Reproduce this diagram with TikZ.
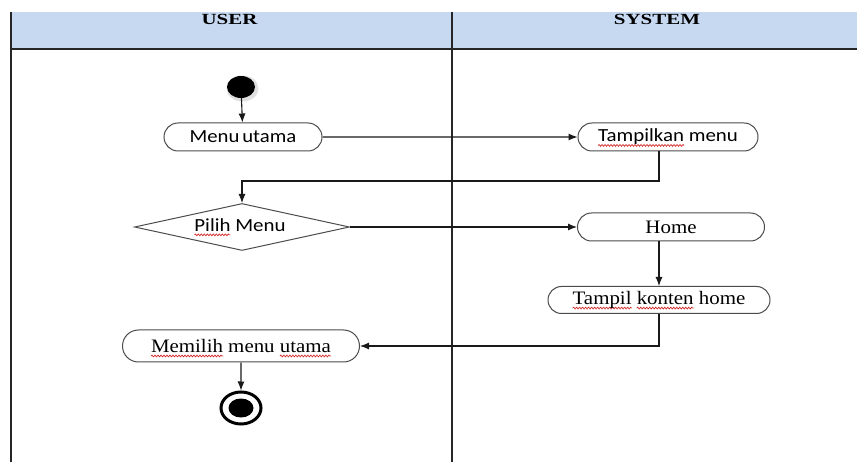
\documentclass[tikz,border=0pt]{standalone}
\usepackage{fontspec}
\usetikzlibrary{shapes.geometric,shapes.misc,arrows.meta,decorations.pathmorphing}

\newfontfamily\labelserif[FakeStretch=1.1]{Liberation Serif}
\newfontfamily\headserif[FakeStretch=1.35]{Liberation Serif}
\newfontfamily\labelsans[FakeStretch=1.13]{Carlito}
\newfontfamily\labelsanstight[FakeStretch=1.12, WordSpace=0.6]{Carlito}
\definecolor{headerblue}{HTML}{C6D9F1}
\definecolor{spellred}{HTML}{D42A2A}

% red wavy spell-check underline under one word
\newdimen\spellwd
\newsavebox\spellbox
\newcommand\spellmark[1]{%
  \sbox\spellbox{#1}\spellwd=\wd\spellbox\relax
  \tikz[overlay, x=1pt, y=1pt, baseline=0pt]
    \draw[spellred, line width=0.7pt, decorate,
          decoration={snake, amplitude=0.9pt, segment length=3pt}]
      (0pt,-3.5pt) -- (\the\spellwd,-3.5pt);%
  \usebox\spellbox}

\tikzset{
  lane/.style={line width=1.6pt, draw=black!85},
  headfont/.style={font=\headserif\bfseries\fontsize{15.5}{17}\selectfont, inner sep=0pt},
  activity/.style={rounded rectangle, draw=black!70, line width=1pt, fill=white,
                   inner sep=0pt, minimum height=28pt},
  sanslabel/.style={font=\labelsans\fontsize{18.5}{20}\selectfont},
  seriflabel/.style={font=\labelserif\fontsize{19}{21}\selectfont},
  flow/.style={line width=1.1pt, draw=black!90, -{Latex[length=9pt,width=7pt]}},
}

\begin{document}
\begin{tikzpicture}[x=1pt,y=-1pt]
\useasboundingbox (0,0) rectangle (857,462);
\fill[white] (0,0) rectangle (857,462);

% swimlane header and lane borders
\fill[headerblue] (11,12) rectangle (857,49);
\draw[lane] (11,12) -- (11,462);
\draw[lane] (452,12) -- (452,462);
\draw[lane] (11,49) -- (857,49);
\node[headfont] (userhead) at (229.5,19) {USER};
\node[headfont] (systemhead) at (657,19) {SYSTEM};

% initial state with its soft halo
\fill[black!12] (242.5,88.5) ellipse [x radius=16pt, y radius=13pt];
\node[ellipse, fill=black, minimum width=28pt, minimum height=22pt, inner sep=0pt]
  (start) at (241,87) {};

% activities
\node[activity, font=\labelsanstight\fontsize{18.5}{20}\selectfont, minimum width=158pt]
  (menu) at (243,137) {Menu utama};
\node[activity, sanslabel, minimum width=180pt] (tampilkan) at (668,137)
  {\spellmark{Tampilkan} menu};
\node[diamond, draw=black!70, line width=1pt, fill=white, sanslabel, inner sep=0pt,
      aspect=4.5, minimum width=215pt, minimum height=47pt]
  (pilih) at (242,227) {};
\node[sanslabel, inner sep=0pt] (pilihtext) at (240,225) {\spellmark{Pilih} Menu};
\node[activity, seriflabel, minimum width=187pt] (home) at (671,227) {Home};
\node[activity, seriflabel, minimum width=222pt, minimum height=27pt] (konten) at (659,300)
  {\spellmark{Tampil} \spellmark{konten} home};
\node[activity, seriflabel, minimum width=237pt, minimum height=32pt] (memilih) at (241,346)
  {\spellmark{Memilih} menu \spellmark{utama}};

% final state
\node[ellipse, draw=black, line width=3pt, fill=white, minimum width=40pt,
      minimum height=32pt, inner sep=0pt] (finish) at (241,408) {};
\node[ellipse, fill=black, minimum width=25pt, minimum height=19pt, inner sep=0pt]
  (finishcore) at (finish.center) {};

% control flow
\draw[flow] (start) -- (menu);
\draw[flow] (menu) -- (tampilkan);
\draw[flow] ([xshift=-9pt]tampilkan.south) -- ([xshift=-9pt]tampilkan.south |- 0,181)
  -| (pilih.north);
\draw[flow] (pilih) -- (home);
\draw[flow] ([xshift=-12pt]home.south) -- (konten.north);
\draw[flow] (konten.south) -- (konten.south |- 0,346) -- (memilih.east);
\draw[flow] (memilih) -- (finish);
\end{tikzpicture}
\end{document}
